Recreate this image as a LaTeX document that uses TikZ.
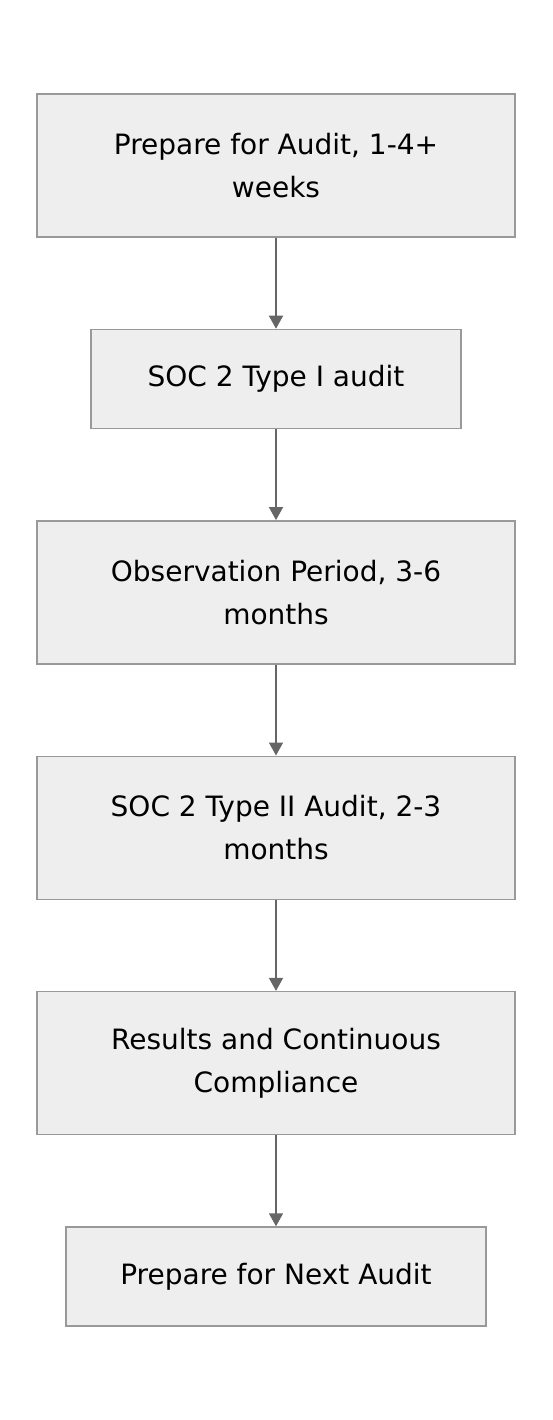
\documentclass[tikz,border=0pt]{standalone}
\usepackage{fontspec}
\setmainfont{DejaVu Sans}
\usepackage{tikz}
\usetikzlibrary{arrows.meta}
\usetikzlibrary{positioning}

\definecolor{boxfill}{HTML}{EEEEEE}
\definecolor{boxline}{HTML}{999999}
\definecolor{arrowline}{HTML}{666666}

\tikzset{
	stage/.style={draw=boxline,fill=boxfill,line width=1.4pt,align=center,
		minimum height=143pt,minimum width=478pt,inner sep=0pt,
		font=\fontsize{28pt}{43pt}\selectfont},
	stageshort/.style={stage,minimum height=99pt},
	flow/.style={draw=arrowline,line width=1.6pt,-{Triangle[length=13pt,width=14pt]}}
}

\begin{document}
\begin{tikzpicture}[x=1pt,y=-1pt,node distance=91pt]
					\useasboundingbox (0,0) rectangle (552,1420);
					% steps of the audit
					\node[stage] (prep) at (276,165.5) {Prepare for Audit, 1-4+\\weeks};
					\node[stageshort,minimum width=370pt,below=of prep] (typeone) {SOC 2 Type I audit};
					\node[stage,below=of typeone] (observe) {Observation Period, 3-6\\months};
					\node[stage,below=of observe] (typetwo) {SOC 2 Type II Audit, 2-3\\months};
					\node[stage,below=of typetwo] (results) {Results and Continuous\\Compliance};
					\node[stageshort,minimum width=420pt,below=of results] (next) {Prepare for Next Audit};
					\foreach \from/\to in {prep/typeone, typeone/observe, observe/typetwo, typetwo/results, results/next} {
						\draw[flow] (\from) -- (\to);
					}
				\end{tikzpicture}
\end{document}
